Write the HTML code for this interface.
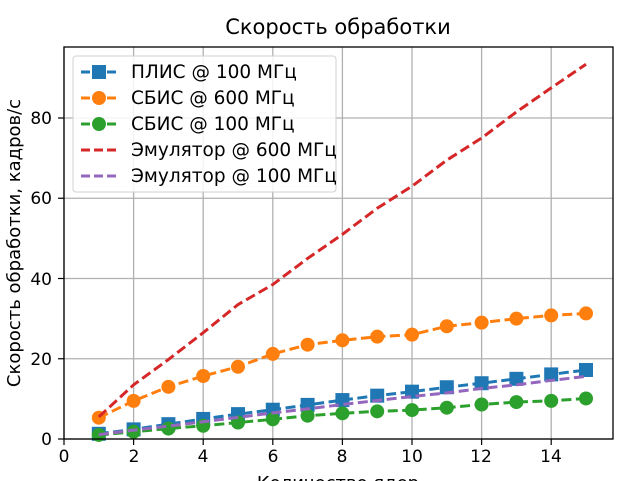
<!DOCTYPE html>
<html><head><meta charset="utf-8"><style>
html,body{margin:0;padding:0;background:#fff;}
svg{display:block;font-family:"DejaVu Sans","Liberation Sans",sans-serif;}
</style></head><body>
<svg id="s" width="628" height="481" viewBox="0 0 628 481" xmlns="http://www.w3.org/2000/svg">
<rect width="628" height="481" fill="#fff"/>
<g id="grid" stroke="#b0b0b0" stroke-width="1.3"></g>
<g id="series"></g>
<rect x="64" y="47" width="549" height="392" fill="none" stroke="#000" stroke-width="1.3"/>
<g id="ticks" stroke="#000" stroke-width="1.2"></g>
<g font-size="17" fill="#000" text-anchor="middle">
<text x="64" y="462">0</text><text x="134" y="462">2</text><text x="203" y="462">4</text><text x="273" y="462">6</text><text x="342" y="462">8</text><text x="412" y="462">10</text><text x="481" y="462">12</text><text x="551" y="462">14</text>
</g>
<g font-size="17" fill="#000" text-anchor="end">
<text x="52" y="445">0</text><text x="52" y="365">20</text><text x="52" y="285">40</text><text x="52" y="204">60</text><text x="52" y="124">80</text>
</g>
<text x="338" y="34" font-size="21" text-anchor="middle">Скорость обработки</text>
<text x="338" y="489" font-size="18" text-anchor="middle">Количество ядер</text>
<text transform="translate(20,243) rotate(-90)" font-size="18" text-anchor="middle">Скорость обработки, кадров/с</text>
<g>
<rect x="73" y="56" width="263" height="136" rx="3" fill="#fff" fill-opacity="0.85" stroke="#d0d0d0"/>
<g stroke-width="3" stroke-dasharray="9,4">
<line x1="81" y1="72" x2="117" y2="72" stroke="#1f77b4"/>
<line x1="81" y1="98" x2="117" y2="98" stroke="#ff7f0e"/>
<line x1="81" y1="124" x2="117" y2="124" stroke="#2ca02c"/>
<line x1="81" y1="150" x2="117" y2="150" stroke="#d62728"/>
<line x1="81" y1="176" x2="117" y2="176" stroke="#9467bd"/>
</g>
<rect x="92" y="65" width="14" height="14" fill="#1f77b4"/>
<circle cx="99" cy="98" r="7" fill="#ff7f0e"/>
<circle cx="99" cy="124" r="7" fill="#2ca02c"/>
<g font-size="18.5" fill="#000">
<text x="131" y="78">ПЛИС @ 100 МГц</text>
<text x="131" y="104">СБИС @ 600 МГц</text>
<text x="131" y="130">СБИС @ 100 МГц</text>
<text x="131" y="156">Эмулятор @ 600 МГц</text>
<text x="131" y="182">Эмулятор @ 100 МГц</text>
</g>
</g>
</svg>
<script>
var NS="http://www.w3.org/2000/svg";
function X(v){return 64+v*34.8;} function Y(v){return 439-v*4.0125;}
function el(p,t,a){var e=document.createElementNS(NS,t);for(var k in a)e.setAttribute(k,a[k]);p.appendChild(e);return e;}
var g=document.getElementById('grid'),tk=document.getElementById('ticks');
for(var i=0;i<=14;i+=2){el(g,'line',{x1:X(i),x2:X(i),y1:47,y2:439});el(tk,'line',{x1:X(i),x2:X(i),y1:439,y2:445});}
for(var j=0;j<=80;j+=20){el(g,'line',{x1:64,x2:613,y1:Y(j),y2:Y(j)});el(tk,'line',{x1:58,x2:64,y1:Y(j),y2:Y(j)});}
var S=[
{c:'#d62728',m:null,d:[5.5,13.5,19.8,26.5,33.5,38.5,45,51,57.5,63,69.5,75,81.5,87.5,93.4]},
{c:'#9467bd',m:null,d:[1.1,2.2,3.2,4.3,5.4,6.5,7.5,8.6,9.6,10.6,11.5,12.6,13.5,14.6,15.6]},
{c:'#ff7f0e',m:'o',d:[5.3,9.5,13,15.7,18,21.2,23.5,24.6,25.5,26,28.1,29,30,30.8,31.3]},
{c:'#2ca02c',m:'o',d:[1,1.8,2.6,3.3,4.1,4.9,5.8,6.4,6.9,7.2,7.8,8.6,9.2,9.5,10.1]},
{c:'#1f77b4',m:'s',d:[1.3,2.4,3.7,5,6.2,7.3,8.5,9.7,10.8,11.8,12.9,13.9,15,16.1,17.2]}
];
var order=[4,2,3,0,1],sg=document.getElementById('series');
order.forEach(function(k){var s=S[k];var pts=s.d.map(function(v,i){return X(i+1)+','+Y(v);}).join(' ');
var gg=el(sg,'g',{});
el(gg,'polyline',{points:pts,fill:'none',stroke:s.c,'stroke-width':3,'stroke-dasharray':'10,4.5'});
s.d.forEach(function(v,i){if(s.m=='o')el(gg,'circle',{cx:X(i+1),cy:Y(v),r:7,fill:s.c});
else if(s.m=='s')el(gg,'rect',{x:X(i+1)-7,y:Y(v)-7,width:14,height:14,fill:s.c});});});
</script>
</body></html>
